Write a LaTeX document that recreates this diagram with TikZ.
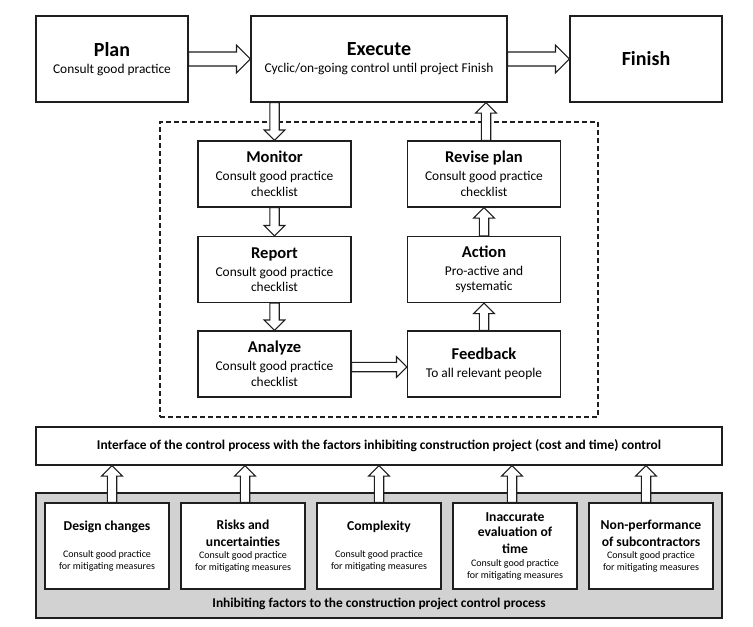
\documentclass[tikz,border=0pt]{standalone}
\usepackage{fontspec}
\setmainfont{Carlito}
\usetikzlibrary{calc}

\definecolor{linec}{HTML}{1E1E1E}
\definecolor{panel}{HTML}{D2D2D2}

% font presets
\newcommand{\ttlbig}{\fontsize{20}{20}\selectfont\bfseries}
\newcommand{\ttlmid}{\fontsize{16.5}{18}\selectfont\bfseries}
\newcommand{\ttlsmall}{\fontsize{13.6}{16.5}\selectfont\bfseries}
\newcommand{\subbig}{\fontsize{13.4}{15.5}\selectfont}
\newcommand{\subsmall}{\fontsize{10}{12}\selectfont}

\begin{document}
\begin{tikzpicture}[x=1pt,y=-1pt,
  box/.style={draw=linec, line width=1.1pt, fill=white, inner sep=0pt, align=center},
  bigbox/.style={box, minimum height=86pt, font=\subbig},
  midbox/.style={box, minimum width=153pt, minimum height=66pt, font=\subbig},
  factorbox/.style={box, minimum width=124pt, minimum height=86pt, font=\subsmall},
  fatarrow/.style n args={3}{to path={
    let \p1=(\tikztostart), \p2=(\tikztotarget),
        \n1={atan2(\y2-\y1,\x2-\x1)}, \n2={veclen(\x2-\x1,\y2-\y1)} in
    {[shift={(\p1)}, rotate=\n1]
     (0pt,#1) -- (\n2-#3,#1) -- (\n2-#3,#2) -- (\n2,0pt) -- (\n2-#3,-#2) -- (\n2-#3,-#1) -- (0pt,-#1) -- cycle}}},
  bigarrow/.style={fatarrow={7pt}{14pt}{14pt}},
  smallarrow/.style={fatarrow={4.7pt}{10.3pt}{10.5pt}},
  conn/.style={draw=linec, line width=1.1pt, fill=white, line join=miter},
]
\useasboundingbox[fill=white] (0,0) rectangle (753,627);

% top row
\node[bigbox, minimum width=152pt] (plan) at (112,59)
  {{\ttlbig Plan}\\[1.5pt]Consult good practice};
\node[bigbox, minimum width=256pt] (execute) at (379,59)
  {{\ttlbig Execute}\\[1.5pt]Cyclic/on-going control until project Finish};
\node[bigbox, minimum width=152pt] (finish) at (646,59) {\ttlbig Finish};

% control loop
\node[draw=linec, line width=1.1pt, dash pattern=on 5pt off 3pt, inner sep=0pt,
      minimum width=438pt, minimum height=295pt] (loop) at (379,269.5) {};

\node[midbox] (monitor) at (274.5,174)
  {{\ttlmid Monitor}\\[2.5pt]Consult good practice\\checklist};
\node[midbox] (report) at (274.5,269.5)
  {{\ttlmid Report}\\[2.5pt]Consult good practice\\checklist};
\node[midbox] (analyze) at (274.5,364)
  {{\ttlmid Analyze}\\[2.5pt]Consult good practice\\checklist};
\node[midbox] (revise) at (484,174)
  {{\ttlmid Revise plan}\\[2.5pt]Consult good practice\\checklist};
\node[midbox] (action) at (484,269.5)
  {{\ttlmid Action}\\[2.5pt]Pro-active and\\systematic};
\node[midbox] (feedback) at (484,364)
  {{\ttlmid Feedback}\\[2.5pt]To all relevant people};

% interface and inhibiting factors
\node[box, minimum width=686pt, minimum height=38pt, font=\fontsize{13.4}{15}\selectfont\bfseries] (interface) at (379,446)
  {Interface of the control process with the factors inhibiting construction project (cost and time) control};
\node[box, fill=panel, minimum width=686pt, minimum height=125pt] (inhibit) at (379,555.5) {};
\node[inner sep=0pt, font=\fontsize{13.4}{15}\selectfont\bfseries] (inhibitlabel) at (379,604)
  {Inhibiting factors to the construction project control process};

\node[factorbox] (design) at (107,546)
  {{\ttlsmall Design changes}\\[15pt]Consult good practice\\for mitigating measures};
\node[factorbox] (risks) at (243,546)
  {{\ttlsmall Risks and}\\[4.5pt]{\ttlsmall uncertainties}\\Consult good practice\\for mitigating measures};
\node[factorbox] (complexity) at (379,546)
  {{\ttlsmall Complexity}\\[15pt]Consult good practice\\for mitigating measures};
\node[factorbox] (inaccurate) at (515,546)
  {{\ttlsmall Inaccurate}\\[3.5pt]{\ttlsmall evaluation of}\\[4.5pt]{\ttlsmall time}\\[1pt]Consult good practice\\for mitigating measures};
\node[factorbox] (nonperf) at (651,546)
  {{\ttlsmall Non-performance}\\[4.5pt]{\ttlsmall of subcontractors}\\Consult good practice\\for mitigating measures};

% arrows of the main sequence
\path[conn] (plan.east) to[bigarrow] (execute.west);
\path[conn] (execute.east) to[bigarrow] (finish.west);
\path[conn] (execute.south -| monitor.north) to[smallarrow] (monitor.north);
\path[conn] (monitor.south) to[smallarrow] (report.north);
\path[conn] (report.south) to[smallarrow] (analyze.north);
\path[conn] ([yshift=-3pt]analyze.east) to[smallarrow] ([yshift=-3pt]feedback.west);
\path[conn] (feedback.north) to[smallarrow] (action.south);
\path[conn] (action.north) to[smallarrow] (revise.south);
\coordinate (rv) at ([xshift=2pt]revise.north);
\path[conn] (rv) to[smallarrow] (rv |- execute.south);

% factor arrows into the interface
\coordinate (f1) at ([xshift=5pt]design.north);
\coordinate (f2) at ([xshift=2pt]risks.north);
\coordinate (f3) at (complexity.north);
\coordinate (f4) at ([xshift=-3pt]inaccurate.north);
\coordinate (f5) at ([xshift=-5pt]nonperf.north);
\foreach \f in {f1,f2,f3,f4,f5}
  \path[conn] (\f) to[smallarrow] (\f |- interface.south);
\end{tikzpicture}
\end{document}
